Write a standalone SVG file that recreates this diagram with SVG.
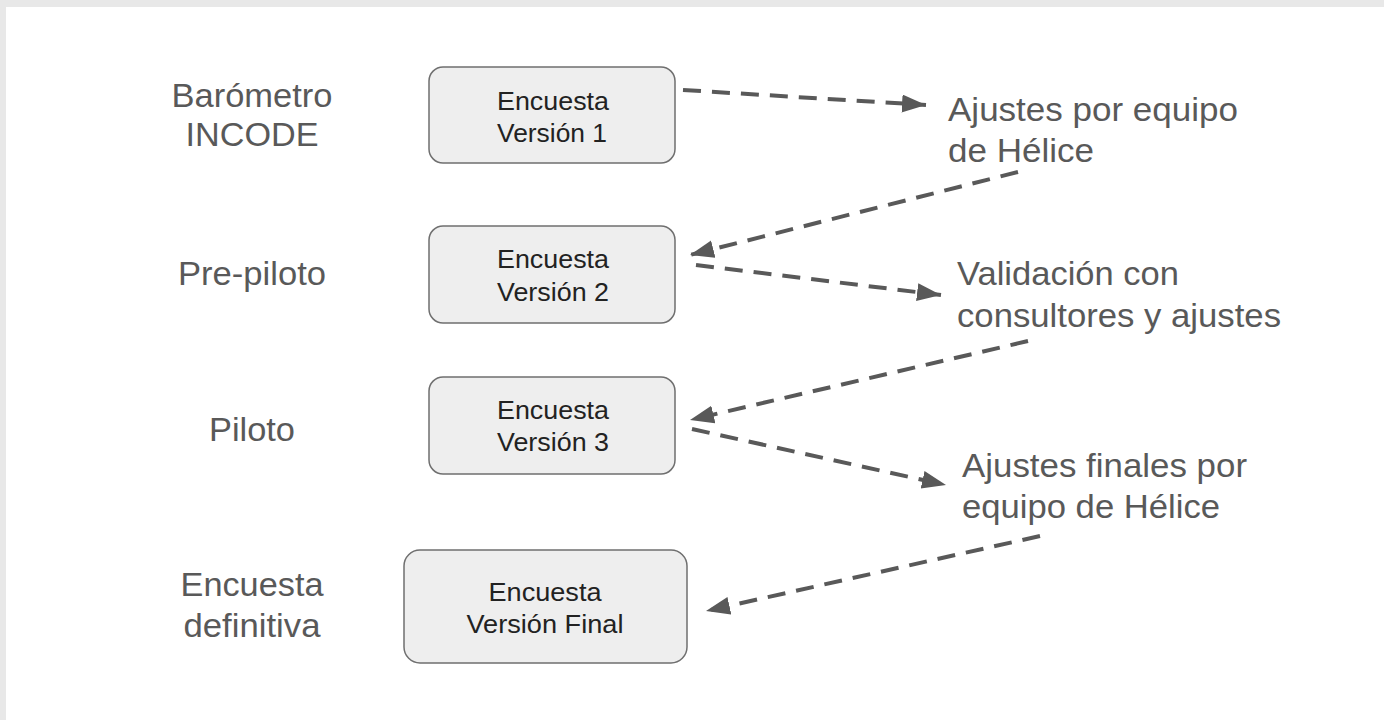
<svg xmlns="http://www.w3.org/2000/svg" width="1384" height="720" viewBox="0 0 1384 720">
<style>
.box{fill:#eeeeee;stroke:#6f6f6f;stroke-width:1.5}
.bt{font-family:"Liberation Sans",Arial,sans-serif;font-size:25px;fill:#222;text-anchor:middle}
.lbl{font-family:"Liberation Sans",Arial,sans-serif;font-size:33px;fill:#595959}
.mid{text-anchor:middle}
.con{stroke:#595959;stroke-width:4;stroke-dasharray:18 11;fill:none;marker-end:url(#ah)}
</style>
<defs>
<marker id="ah" markerUnits="userSpaceOnUse" markerWidth="26" markerHeight="20" refX="24" refY="9" orient="auto">
<path d="M0,0 L24,9 L0,18 Z" fill="#595959"/>
</marker>
</defs>
<rect x="0" y="0" width="1384" height="720" fill="#e8e8e8"/>
<rect x="6" y="7" width="1378" height="713" fill="#ffffff"/>

<g id="label-barometro">
<text class="lbl mid" x="252" y="107" textLength="161" lengthAdjust="spacingAndGlyphs">Barómetro</text>
<text class="lbl mid" x="252" y="146" textLength="133" lengthAdjust="spacingAndGlyphs">INCODE</text>
</g>
<g id="label-prepiloto"><text class="lbl mid" x="252" y="285" textLength="148" lengthAdjust="spacingAndGlyphs">Pre-piloto</text></g>
<g id="label-piloto"><text class="lbl mid" x="252" y="441" textLength="86" lengthAdjust="spacingAndGlyphs">Piloto</text></g>
<g id="label-definitiva">
<text class="lbl mid" x="252" y="596" textLength="143" lengthAdjust="spacingAndGlyphs">Encuesta</text>
<text class="lbl mid" x="252" y="637" textLength="137" lengthAdjust="spacingAndGlyphs">definitiva</text>
</g>

<g id="node-v1">
<rect class="box" x="429" y="67" width="246" height="96" rx="14"/>
<text class="bt" x="553" y="110" textLength="112" lengthAdjust="spacingAndGlyphs">Encuesta</text>
<text class="bt" x="552" y="142" textLength="110" lengthAdjust="spacingAndGlyphs">Versión 1</text>
</g>
<g id="node-v2">
<rect class="box" x="429" y="226" width="246" height="97" rx="14"/>
<text class="bt" x="553" y="268" textLength="112" lengthAdjust="spacingAndGlyphs">Encuesta</text>
<text class="bt" x="553" y="301" textLength="112" lengthAdjust="spacingAndGlyphs">Versión 2</text>
</g>
<g id="node-v3">
<rect class="box" x="429" y="377" width="246" height="97" rx="14"/>
<text class="bt" x="553" y="419" textLength="112" lengthAdjust="spacingAndGlyphs">Encuesta</text>
<text class="bt" x="553" y="451" textLength="112" lengthAdjust="spacingAndGlyphs">Versión 3</text>
</g>
<g id="node-final">
<rect class="box" x="404" y="550" width="283" height="113" rx="16"/>
<text class="bt" x="545" y="601" textLength="113" lengthAdjust="spacingAndGlyphs">Encuesta</text>
<text class="bt" x="545" y="633" textLength="157" lengthAdjust="spacingAndGlyphs">Versión Final</text>
</g>

<g id="note-ajustes1">
<text class="lbl" x="948" y="121" textLength="290" lengthAdjust="spacingAndGlyphs">Ajustes por equipo</text>
<text class="lbl" x="948" y="162" textLength="146" lengthAdjust="spacingAndGlyphs">de Hélice</text>
</g>
<g id="note-validacion">
<text class="lbl" x="957" y="285" textLength="222" lengthAdjust="spacingAndGlyphs">Validación con</text>
<text class="lbl" x="957" y="327" textLength="324" lengthAdjust="spacingAndGlyphs">consultores y ajustes</text>
</g>
<g id="note-ajustes-finales">
<text class="lbl" x="962" y="477" textLength="285" lengthAdjust="spacingAndGlyphs">Ajustes finales por</text>
<text class="lbl" x="962" y="518" textLength="258" lengthAdjust="spacingAndGlyphs">equipo de Hélice</text>
</g>

<g id="connectors">
<path class="con" d="M683,90 L926,105"/>
<path class="con" d="M1018,172 L690,255"/>
<path class="con" d="M696,265 L941,295"/>
<path class="con" d="M1028,341 L690,420"/>
<path class="con" d="M692,429 L946,485"/>
<path class="con" d="M1040,536 L706,611"/>
</g>
</svg>
